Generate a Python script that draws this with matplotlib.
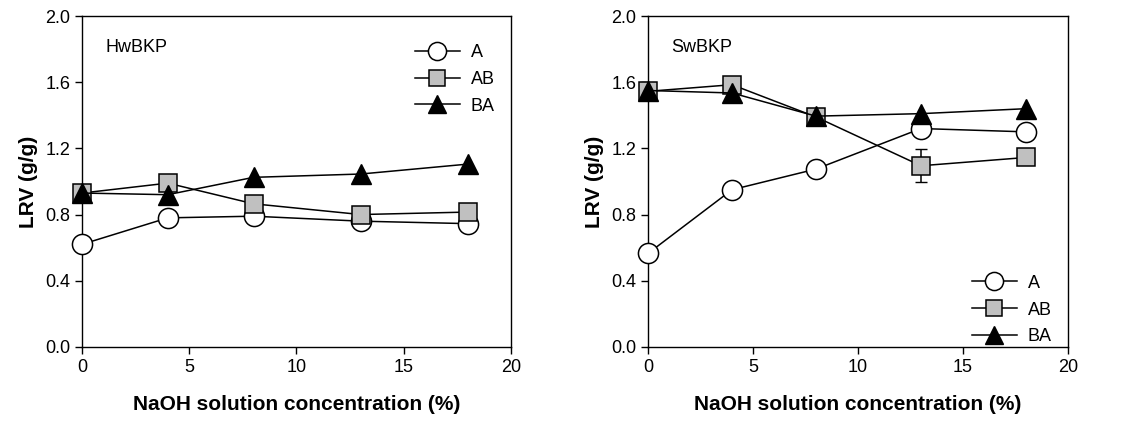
"""LRV vs NaOH concentration for HwBKP and SwBKP."""

import matplotlib
matplotlib.use("Agg")
import matplotlib.pyplot as plt

plt.rcParams["font.family"] = ["Liberation Sans", "DejaVu Sans"]

naoh = [0, 4, 8, 13, 18]

hw_a = [0.62, 0.78, 0.79, 0.76, 0.745]
hw_ab = [0.93, 0.99, 0.865, 0.80, 0.815]
hw_ba = [0.93, 0.92, 1.025, 1.045, 1.105]

sw_a = [0.565, 0.95, 1.075, 1.32, 1.30]
sw_ab = [1.545, 1.585, 1.39, 1.095, 1.145]
sw_ab_err = [0, 0, 0, 0.10, 0]
sw_ba = [1.55, 1.535, 1.395, 1.41, 1.44]

panels = [
    ("HwBKP", hw_a, hw_ab, hw_ba, None, "upper right", (1.0, 0.965)),
    ("SwBKP", sw_a, sw_ab, sw_ba, sw_ab_err, "lower right", (1.0, -0.045)),
]

fig = plt.figure(figsize=(11.3, 4.23), dpi=100)
boxes = [[0.0726, 0.18, 0.3794, 0.782], [0.5735, 0.18, 0.3715, 0.782]]

for box, (name, a, ab, ba, err, loc, anchor) in zip(boxes, panels):
    ax = fig.add_axes(box)
    h_a, = ax.plot(naoh, a, "-o", color="black", lw=1.1, ms=14.5, mfc="white", mec="black", mew=1.1,
                   label="A", clip_on=False, zorder=3)
    ax.errorbar(naoh, ab, yerr=err, fmt="none", ecolor="black", elinewidth=1.1, capsize=4, zorder=2)
    h_ab, = ax.plot(naoh, ab, "-s", color="black", lw=1.1, ms=13, mfc="#c0c0c0", mec="black", mew=1.1,
                    label="AB", clip_on=False, zorder=3)
    h_ba, = ax.plot(naoh, ba, "-^", color="black", lw=1.1, ms=14.5, mfc="black", mec="black",
                    label="BA", clip_on=False, zorder=3)
    ax.set_xlim(0, 20)
    ax.set_ylim(0, 2.0)
    ax.set_xticks([0, 5, 10, 15, 20])
    ax.set_yticks([0.0, 0.4, 0.8, 1.2, 1.6, 2.0])
    ax.set_yticklabels(["0.0", "0.4", "0.8", "1.2", "1.6", "2.0"])
    ax.tick_params(direction="out", length=5, width=1, labelsize=13, top=False, right=False)
    for sp in ax.spines.values():
        sp.set_linewidth(1)
    ax.set_xlabel("NaOH solution concentration (%)", fontsize=15, fontweight="bold", labelpad=14)
    ax.set_ylabel("LRV (g/g)", fontsize=15, fontweight="bold", labelpad=5)
    ax.text(0.055, 0.93, name, transform=ax.transAxes, fontsize=13, va="top", ha="left")
    ax.legend(handles=[h_a, h_ab, h_ba], loc=loc, bbox_to_anchor=anchor, frameon=False, fontsize=13,
              handlelength=2.5, handletextpad=0.6, labelspacing=0.55, borderaxespad=0.5,
              markerscale=0.9)

fig.savefig("out.png", dpi=100)
